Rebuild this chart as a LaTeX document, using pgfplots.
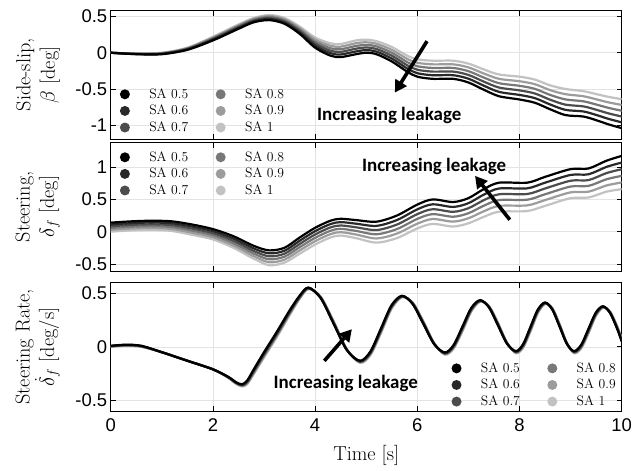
\documentclass[border=0pt]{standalone}
\usepackage{pgfplots}
\pgfplotsset{compat=1.18}
\usepackage{pgfplotstable}
\usepackage{fontspec}
\newfontfamily\tickfont{Liberation Sans}
\newfontfamily\calib{Carlito}
\usetikzlibrary{arrows.meta}

\definecolor{g1}{gray}{0}
\definecolor{g2}{gray}{0.16}
\definecolor{g3}{gray}{0.30}
\definecolor{g4}{gray}{0.47}
\definecolor{g5}{gray}{0.61}
\definecolor{g6}{gray}{0.76}

\pgfplotstableread{
t a b c d e f
0 0 0 0 0 0 0
0.5 -0.020 -0.018 -0.016 -0.014 -0.012 -0.010
1.0 -0.020 -0.016 -0.012 -0.008 -0.004 0.000
1.5 0.040 0.046 0.052 0.058 0.064 0.070
2.0 0.170 0.180 0.190 0.200 0.210 0.220
2.5 0.330 0.342 0.354 0.366 0.378 0.390
2.8 0.420 0.432 0.444 0.456 0.468 0.480
3.1 0.450 0.464 0.478 0.492 0.506 0.520
3.4 0.400 0.416 0.432 0.448 0.464 0.480
3.7 0.260 0.280 0.300 0.320 0.340 0.360
4.0 0.070 0.098 0.126 0.154 0.182 0.210
4.3 -0.040 -0.006 0.028 0.062 0.096 0.130
4.5 -0.060 -0.024 0.012 0.048 0.084 0.120
4.8 -0.020 0.018 0.056 0.094 0.132 0.170
5.0 0.000 0.036 0.072 0.108 0.144 0.180
5.2 -0.020 0.016 0.052 0.088 0.124 0.160
5.5 -0.120 -0.080 -0.040 0.000 0.040 0.080
5.8 -0.260 -0.216 -0.172 -0.128 -0.084 -0.040
6.0 -0.330 -0.282 -0.234 -0.186 -0.138 -0.090
6.3 -0.360 -0.310 -0.260 -0.210 -0.160 -0.110
6.7 -0.360 -0.310 -0.260 -0.210 -0.160 -0.110
7.0 -0.410 -0.358 -0.306 -0.254 -0.202 -0.150
7.3 -0.510 -0.454 -0.398 -0.342 -0.286 -0.230
7.6 -0.600 -0.540 -0.480 -0.420 -0.360 -0.300
8.0 -0.645 -0.582 -0.519 -0.456 -0.393 -0.330
8.3 -0.690 -0.626 -0.562 -0.498 -0.434 -0.370
8.6 -0.780 -0.714 -0.648 -0.582 -0.516 -0.450
8.9 -0.860 -0.788 -0.716 -0.644 -0.572 -0.500
9.25 -0.880 -0.810 -0.740 -0.670 -0.600 -0.530
9.5 -0.930 -0.858 -0.786 -0.714 -0.642 -0.570
9.75 -0.990 -0.914 -0.838 -0.762 -0.686 -0.610
10 -1.040 -0.960 -0.880 -0.800 -0.720 -0.640
}\topdata

\pgfplotstableread{
t a b c d e f
0 0.140 0.112 0.084 0.056 0.028 0.000
0.4 0.160 0.132 0.104 0.076 0.048 0.020
0.8 0.170 0.142 0.114 0.086 0.058 0.030
1.2 0.160 0.130 0.100 0.070 0.040 0.010
1.6 0.110 0.078 0.046 0.014 -0.018 -0.050
2.0 0.040 0.008 -0.024 -0.056 -0.088 -0.120
2.4 -0.070 -0.106 -0.142 -0.178 -0.214 -0.250
2.8 -0.220 -0.260 -0.300 -0.340 -0.380 -0.420
3.1 -0.290 -0.336 -0.382 -0.428 -0.474 -0.520
3.4 -0.250 -0.296 -0.342 -0.388 -0.434 -0.480
3.7 -0.090 -0.140 -0.190 -0.240 -0.290 -0.340
4.0 0.060 0.008 -0.044 -0.096 -0.148 -0.200
4.3 0.170 0.118 0.066 0.014 -0.038 -0.090
4.5 0.200 0.148 0.096 0.044 -0.008 -0.060
4.8 0.180 0.124 0.068 0.012 -0.044 -0.100
5.2 0.155 0.090 0.025 -0.040 -0.105 -0.170
5.6 0.250 0.180 0.110 0.040 -0.030 -0.100
6.0 0.420 0.346 0.272 0.198 0.124 0.050
6.3 0.500 0.424 0.348 0.272 0.196 0.120
6.7 0.460 0.384 0.308 0.232 0.156 0.080
7.0 0.520 0.442 0.364 0.286 0.208 0.130
7.3 0.660 0.574 0.488 0.402 0.316 0.230
7.6 0.760 0.670 0.580 0.490 0.400 0.310
8.15 0.760 0.672 0.584 0.496 0.408 0.320
8.5 0.850 0.760 0.670 0.580 0.490 0.400
9.0 0.970 0.880 0.790 0.700 0.610 0.520
9.35 0.980 0.890 0.800 0.710 0.620 0.530
9.7 1.100 1.004 0.908 0.812 0.716 0.620
10 1.175 1.072 0.969 0.866 0.763 0.660
}\middata

\pgfplotstableread{
t a b c d e f
0 0.010 0.008 0.006 0.004 0.002 0.000
0.3 0.020 0.018 0.016 0.014 0.012 0.010
0.6 0.010 0.008 0.006 0.004 0.002 0.000
1.0 -0.050 -0.050 -0.050 -0.050 -0.050 -0.050
1.5 -0.130 -0.130 -0.130 -0.130 -0.130 -0.130
2.0 -0.210 -0.210 -0.210 -0.210 -0.210 -0.210
2.3 -0.280 -0.282 -0.284 -0.286 -0.288 -0.290
2.45 -0.330 -0.333 -0.336 -0.339 -0.342 -0.345
2.57 -0.350 -0.354 -0.358 -0.362 -0.366 -0.370
2.67 -0.315 -0.322 -0.329 -0.336 -0.343 -0.350
2.8 -0.210 -0.219 -0.228 -0.237 -0.246 -0.255
3.0 -0.050 -0.060 -0.070 -0.080 -0.090 -0.100
3.25 0.140 0.130 0.120 0.110 0.100 0.090
3.5 0.340 0.331 0.322 0.313 0.304 0.295
3.7 0.480 0.474 0.468 0.462 0.456 0.450
3.87 0.555 0.552 0.549 0.546 0.543 0.540
4.11 0.455 0.458 0.461 0.464 0.467 0.470
4.365 0.213 0.218 0.223 0.228 0.233 0.238
4.62 -0.030 -0.028 -0.026 -0.024 -0.022 -0.020
4.88 -0.130 -0.134 -0.138 -0.142 -0.146 -0.150
5.085 -0.041 -0.048 -0.055 -0.062 -0.069 -0.076
5.29 0.174 0.165 0.156 0.147 0.138 0.129
5.495 0.389 0.382 0.375 0.368 0.361 0.354
5.70 0.478 0.475 0.472 0.469 0.466 0.463
5.91 0.400 0.403 0.406 0.409 0.412 0.415
6.12 0.213 0.218 0.223 0.228 0.233 0.238
6.33 0.025 0.027 0.029 0.031 0.033 0.035
6.54 -0.053 -0.057 -0.061 -0.065 -0.069 -0.073
6.7125 0.019 0.012 0.005 -0.002 -0.009 -0.016
6.885 0.192 0.183 0.174 0.165 0.156 0.147
7.0575 0.365 0.358 0.351 0.344 0.337 0.330
7.23 0.437 0.434 0.431 0.428 0.425 0.422
7.405 0.367 0.370 0.373 0.376 0.379 0.382
7.58 0.199 0.204 0.209 0.214 0.219 0.224
7.755 0.030 0.032 0.034 0.036 0.038 0.040
7.93 -0.040 -0.044 -0.048 -0.052 -0.056 -0.060
8.0725 0.027 0.020 0.013 0.006 -0.001 -0.008
8.215 0.188 0.179 0.170 0.161 0.152 0.143
8.3575 0.348 0.341 0.334 0.327 0.320 0.313
8.50 0.415 0.412 0.409 0.406 0.403 0.400
8.6425 0.348 0.351 0.354 0.357 0.360 0.363
8.785 0.188 0.193 0.198 0.203 0.208 0.213
8.9275 0.027 0.029 0.031 0.033 0.035 0.037
9.07 -0.040 -0.044 -0.048 -0.052 -0.056 -0.060
9.21 0.022 0.015 0.008 0.001 -0.006 -0.013
9.35 0.170 0.161 0.152 0.143 0.134 0.125
9.49 0.318 0.311 0.304 0.297 0.290 0.283
9.63 0.380 0.377 0.374 0.371 0.368 0.365
9.77 0.318 0.321 0.324 0.327 0.330 0.333
9.91 0.170 0.175 0.180 0.185 0.190 0.195
10.0 0.050 0.055 0.060 0.065 0.070 0.075
}\botdata

\newcommand\legendimgs{%
  \addlegendimage{color=g1}\addlegendentry{SA 0.5}
  \addlegendimage{color=g2}\addlegendentry{SA 0.6}
  \addlegendimage{color=g3}\addlegendentry{SA 0.7}
  \addlegendimage{color=g4}\addlegendentry{SA 0.8}
  \addlegendimage{color=g5}\addlegendentry{SA 0.9}
  \addlegendimage{color=g6}\addlegendentry{SA 1}
}
\newcommand\sixplots[1]{%
  \addplot[color=g6, forget plot] table[x=t, y=f] {#1};
  \addplot[color=g5, forget plot] table[x=t, y=e] {#1};
  \addplot[color=g4, forget plot] table[x=t, y=d] {#1};
  \addplot[color=g3, forget plot] table[x=t, y=c] {#1};
  \addplot[color=g2, forget plot] table[x=t, y=b] {#1};
  \addplot[color=g1, forget plot] table[x=t, y=a] {#1};
}

\tikzset{
  arrowst/.style={-{Triangle[length=12bp,width=13bp]}, line width=3.6bp, black},
  leak/.style={font=\calib\bfseries\fontsize{19}{22}\selectfont, inner sep=0pt},
}

\pgfplotsset{
  panel/.style={
    width=511bp, height=128.3bp, scale only axis,
    xmin=0, xmax=10, xtick={0,2,...,10},
    grid=major, major grid style={gray!22, line width=0.6bp},
    axis line style={line width=0.8bp},
    tick style={black, line width=0.8bp}, major tick length=5bp,
    xtick pos=both, ytick pos=both, tick align=inside,
    ticklabel style={font=\tickfont\fontsize{18.5}{21}\selectfont},
    xticklabel style={yshift=-4bp},
    /pgf/number format/assume math mode=true,
    label style={font=\fontsize{20.3}{24.5}\selectfont},
    ylabel style={align=center, at={(axis description cs:-0.099,0.5)}, anchor=south, inner sep=0pt},
    xlabel style={at={(axis description cs:0.5,-0.35)}, anchor=center, inner sep=0pt},
    every axis plot/.append style={line width=2.2bp, smooth, mark=none},
    legend style={draw=none, fill=none, inner sep=0pt, outer sep=0pt,
      font=\fontsize{13.7}{16}\selectfont,
      nodes={inner sep=2.4bp, text height=9.8bp, text depth=2bp},
      /tikz/every even column/.append style={column sep=25bp}},
    legend columns=3, transpose legend, legend cell align=left,
    legend image code/.code={\fill[draw=none] (0bp,0bp) circle (5bp); \path[draw=none,fill=none] (-5bp,0bp) rectangle (22bp,0.1bp);},
  },
}

\begin{document}
\begin{tikzpicture}
\path[use as bounding box] (0,0) rectangle (634bp,-471bp);

\begin{axis}[panel, at={(110.7bp,-139bp)}, anchor=south west,
  ymin=-1.19, ymax=0.58, ytick={-1,-0.5,0,0.5}, xticklabels={},
  ylabel={Side-slip,\\$\beta$ [deg]},
  legend style={at={(0.018,0.413)}, anchor=north west}]
  \legendimgs
  \sixplots{\topdata}
  \draw[arrowst] (axis cs:6.19,0.16) -- (axis cs:5.56,-0.55);
  \node[leak] at (axis cs:5.45,-0.866) {Increasing leakage};
\end{axis}

\begin{axis}[panel, at={(110.7bp,-271bp)}, anchor=south west,
  ymin=-0.61, ymax=1.38, ytick={-0.5,0,0.5,1}, xticklabels={},
  ylabel={Steering,\\$\delta_f$ [deg]},
  legend style={at={(0.018,0.951)}, anchor=north west}]
  \legendimgs
  \sixplots{\middata}
  \draw[arrowst] (axis cs:7.81,0.185) -- (axis cs:7.13,0.866);
  \node[leak] at (axis cs:6.33,1.01) {Increasing leakage};
\end{axis}

\begin{axis}[panel, at={(110.7bp,-411bp)}, anchor=south west,
  ymin=-0.6, ymax=0.6, ytick={-0.5,0,0.5},
  ylabel={Steering Rate,\\$\dot{\delta}_f$ [deg/s]},
  xlabel={Time [s]},
  legend style={at={(0.667,0.397)}, anchor=north west}]
  \legendimgs
  \sixplots{\botdata}
  \draw[arrowst] (axis cs:4.18,-0.131) -- (axis cs:4.72,0.165);
  \node[leak] at (axis cs:4.6,-0.34) {Increasing leakage};
\end{axis}
\end{tikzpicture}
\end{document}
